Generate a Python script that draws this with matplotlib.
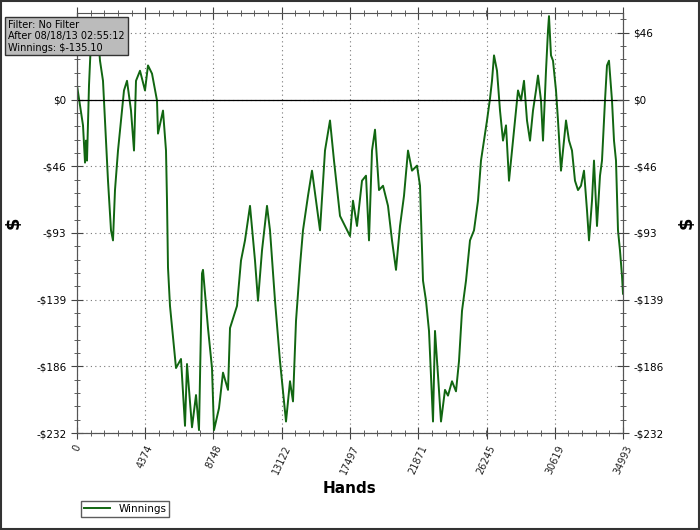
import matplotlib.pyplot as plt
import matplotlib.patches as mpatches
from matplotlib.ticker import MultipleLocator

# cumulative winnings
hands = [0, 192, 385, 513, 577, 641, 769, 897, 1154, 1346, 1474, 1666, 1859, 1987, 2179, 2307,
         2435, 2628, 2820, 3012, 3205, 3461, 3653, 3781, 4038, 4358, 4550, 4807, 5127, 5191, 5512,
         5704, 5768, 5832, 5960, 6345, 6665, 6922, 7050, 7370, 7627, 7819, 8011, 8075, 8395, 8652,
         8780, 9101, 9357, 9678, 9806, 10254, 10511, 10767, 11088, 11408, 11600, 11857, 12177,
         12369, 12690, 13010, 13203, 13395, 13651, 13843, 14036, 14292, 14484, 14805, 15061,
         15318, 15574, 15894, 16215, 16471, 16856, 17176, 17497, 17689, 17945, 18266, 18522,
         18714, 18907, 19099, 19355, 19612, 19932, 20188, 20445, 20701, 20957, 21214, 21470,
         21791, 21983, 22175, 22368, 22560, 22816, 22944, 23137, 23329, 23585, 23777, 24034,
         24290, 24482, 24675, 24931, 25187, 25444, 25700, 25892, 26085, 26277, 26469, 26597,
         26726, 26918, 27110, 27302, 27495, 27687, 27879, 28071, 28264, 28456, 28648, 28840,
         29033, 29225, 29417, 29545, 29738, 29866, 30058, 30186, 30250, 30378, 30506, 30699,
         30827, 31019, 31147, 31340, 31532, 31724, 31916, 32109, 32301, 32493, 32685, 32814,
         33006, 33134, 33326, 33519, 33647, 33839, 33967, 34095, 34288, 34416, 34544, 34672,
         34800, 34929, 34993]
winnings = [9.8, -4.2, -18, -43.9, -28.6, -42.5, 9.8, 41, 34, 46, 27, 13, -28.6, -56.5, -91, -98,
            -63, -35.5, -14.6, 6.3, 13, -7.7, -35.5, 13, 20, 6.3, 23.7, 18, -0.7, -23.7, -7.7,
            -35.5, -70.4, -117, -143.6, -186.8, -180.5, -227, -184, -228, -205.6, -230, -121,
            -118.5, -159, -186.8, -230, -214.7, -190, -202, -159, -143.6, -112, -98, -74, -112,
            -140, -105, -74, -91, -140, -182, -203, -224, -196, -210, -154, -115.7, -91, -67,
            -49.5, -70.4, -91, -35.5, -14.6, -42.5, -81, -88, -95, -70.4, -88, -56.5, -53, -98,
            -35.5, -21, -63, -60, -74, -98, -118.5, -88, -67, -35.5, -49.5, -46, -60, -126,
            -140, -161, -224, -161, -192, -224, -202, -206, -196, -203, -182, -147, -126, -98,
            -91, -70.4, -42.5, -28.6, -14.6, 0.7, 13, 30.7, 20, -7.7, -28.6, -18, -56.5, -35.5,
            -14.6, 6.3, -0.7, 13, -14.6, -28.6, -7.7, 6.3, 16.7, -0.7, -28.6, 20, 48, 58, 30.7,
            27, 6.3, -14.6, -49.5, -35.5, -14.6, -28.6, -35.5, -56.5, -63, -60, -49.5, -77, -98,
            -70.4, -42.5, -88, -53, -42.5, -0.7, 23.7, 27, -0.7, -28.6, -42.5, -91, -105, -122.7,
            -135.1]

x_ticks = [0, 4374, 8748, 13122, 17497, 21871, 26245, 30619, 34993]
y_ticks = [46.4, 0, -46.4, -92.8, -139.2, -185.6, -232]
y_labels = ['$46', '$0', '-$46', '-$93', '-$139', '-$186', '-$232']

fig = plt.figure(figsize=(7, 5.3), dpi=100)
fig.patches.append(mpatches.Rectangle((0.002, 0.002), 0.996, 0.996, transform=fig.transFigure,
                                      fill=False, edgecolor='#333333', linewidth=1.5))
ax = fig.add_axes([0.11, 0.183, 0.78, 0.792])
ax.plot(hands, winnings, color='#116611', linewidth=1.4, label='Winnings')
ax.axhline(0, color='black', linewidth=0.9)
ax.set_xlim(0, 34993)
ax.set_ylim(-232, 60)
ax.set_xticks(x_ticks)
ax.set_xticklabels([str(t) for t in x_ticks], rotation=65, fontsize=7, color='#222222')
ax.xaxis.set_minor_locator(MultipleLocator(4374 / 5))
ax.set_yticks(y_ticks)
ax.set_yticklabels(y_labels, fontsize=7.5)
ax.yaxis.set_minor_locator(MultipleLocator(46.4 / 5))
ax.grid(True, which='major', color='#777777', linestyle=(0, (1, 3)), linewidth=0.8)
ax.tick_params(which='both', direction='inout', color='#444444')
ax.tick_params(which='major', length=8)
ax.tick_params(which='minor', length=5)
for sp in ax.spines.values():
    sp.set_color('#555555')
ax.spines['top'].set_visible(False)
ax.tick_params(top=True, which='both')
ax.set_xlabel('Hands', fontsize=11, fontweight='bold')
ax.set_ylabel('$', fontsize=13, fontweight='bold', labelpad=10)

ax2 = ax.twinx()
ax2.set_ylim(ax.get_ylim())
ax2.set_yticks(y_ticks)
ax2.set_yticklabels(y_labels, fontsize=7.5)
ax2.yaxis.set_minor_locator(MultipleLocator(46.4 / 5))
ax2.tick_params(which='both', direction='inout', color='#444444')
ax2.tick_params(which='major', length=8)
ax2.tick_params(which='minor', length=5)
ax2.set_ylabel('$', fontsize=13, fontweight='bold', rotation=90, labelpad=10)
for sp in ax2.spines.values():
    sp.set_color('#555555')

fig.legend(loc='lower left', bbox_to_anchor=(0.108, 0.015), fontsize=7.5, fancybox=False,
           edgecolor='#333333', handlelength=2.5, borderpad=0.3)
info = fig.text(0.012, 0.962, 'Filter: No Filter\nAfter 08/18/13 02:55:12\nWinnings: $-135.10',
                fontsize=7, va='top', linespacing=1.15, zorder=10,
                bbox=dict(boxstyle='square,pad=0.3', facecolor='#bbbbbb', edgecolor='#333333'))

fig.savefig('out.png')
